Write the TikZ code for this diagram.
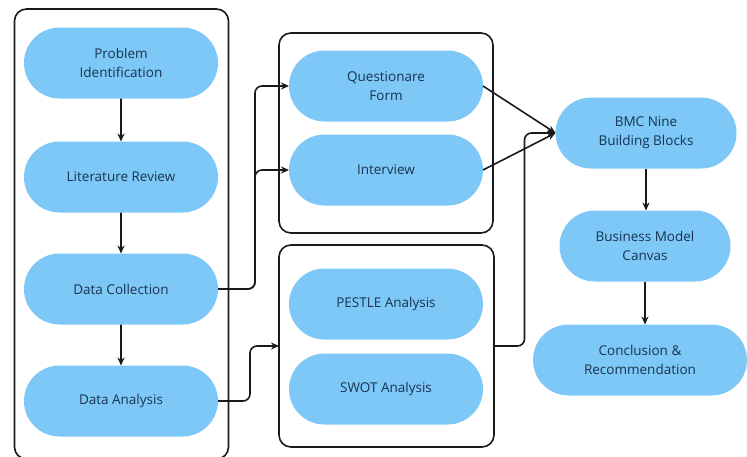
\documentclass[tikz,border=0pt]{standalone}
\usepackage{fontspec}
\setmainfont{Open Sans}
\usetikzlibrary{shapes.misc,arrows.meta}

\definecolor{boxblue}{HTML}{7DC8F7}
\definecolor{inkblue}{HTML}{1B3350}
\definecolor{lineblack}{HTML}{1A1A1A}

\tikzstyle{main}   = [rounded rectangle, inner sep=0pt, outer sep=0pt, text centered, align=center, font=\fontsize{13.5}{19}\selectfont, text=inkblue, minimum height=71pt]
\tikzstyle{cblue}  = [fill=boxblue, draw=none]
\tikzstyle{frame}  = [draw=lineblack, line width=1.6pt, rounded corners=12pt, inner sep=0pt, outer sep=0pt]
\tikzstyle{link}   = [draw=lineblack, line width=1.6pt, rounded corners=7pt, -{Stealth[length=8pt,width=7pt]}]
\tikzstyle{size1}  = [main, minimum width=171pt]
\tikzstyle{size2}  = [main, minimum width=181pt]
\tikzstyle{size3}  = [main, minimum width=194pt]
\tikzstyle{size4}  = [main, minimum width=214pt]

\begin{document}
\begin{tikzpicture}[x=1pt, y=-1pt]
  \useasboundingbox (0,0) rectangle (747,456);
  % group frames
  \node[frame, minimum width=214pt, minimum height=450pt] (grpL) at (121.5,234) {};
  \node[frame, minimum width=214pt, minimum height=200pt] (grpA) at (386,133) {};
  \node[frame, minimum width=215pt, minimum height=202pt] (grpB) at (386.5,346) {};

  % left column
  \node[size3, cblue] (prob) at (121,63)  {Problem\\Identification};
  \node[size3, cblue] (lit)  at (121,177) {Literature Review};
  \node[size3, cblue] (dcol) at (121,289) {Data Collection};
  \node[size3, cblue] (dana) at (121,401) {Data Analysis};

  % middle column
  \node[size3, cblue] (quest)  at (386,86)  {Questionare\\Form};
  \node[size3, cblue] (inter)  at (386,170) {Interview};
  \node[size3, cblue] (pestle) at (386,304) {PESTLE Analysis};
  \node[size3, cblue] (swot)   at (386,389) {SWOT Analysis};

  % right column
  \node[size2, cblue] (bmc)    at (646,133) {BMC Nine\\Building Blocks};
  \node[size1, cblue] (canvas) at (645,246) {Business Model\\Canvas};
  \node[size4, cblue] (concl)  at (640,360) {Conclusion \&\\Recommendation};

  % connectors
  \draw[link] (prob) -- (lit);
  \draw[link] (lit) -- (dcol);
  \draw[link] (dcol) -- (dana);
  \draw[link] (dcol.east) -| ([xshift=-34pt]quest.west) -- (quest.west);
  \draw[link] (dcol.east) -| ([xshift=-34pt]inter.west) -- (inter.west);
  \draw[link] (dana.east) -| ([xshift=-29pt]grpB.west) -- (grpB.west);
  \draw[link] (grpB.east) -| ([xshift=-31pt]bmc.west) -- (bmc.west);
  \draw[link] (quest.east) -- (bmc.west);
  \draw[link] (inter.east) -- (bmc.west);
  \draw[link] (bmc.south) -- (bmc.south |- canvas.north);
  \draw[link] (canvas.south) -- (canvas.south |- concl.north);
\end{tikzpicture}
\end{document}
